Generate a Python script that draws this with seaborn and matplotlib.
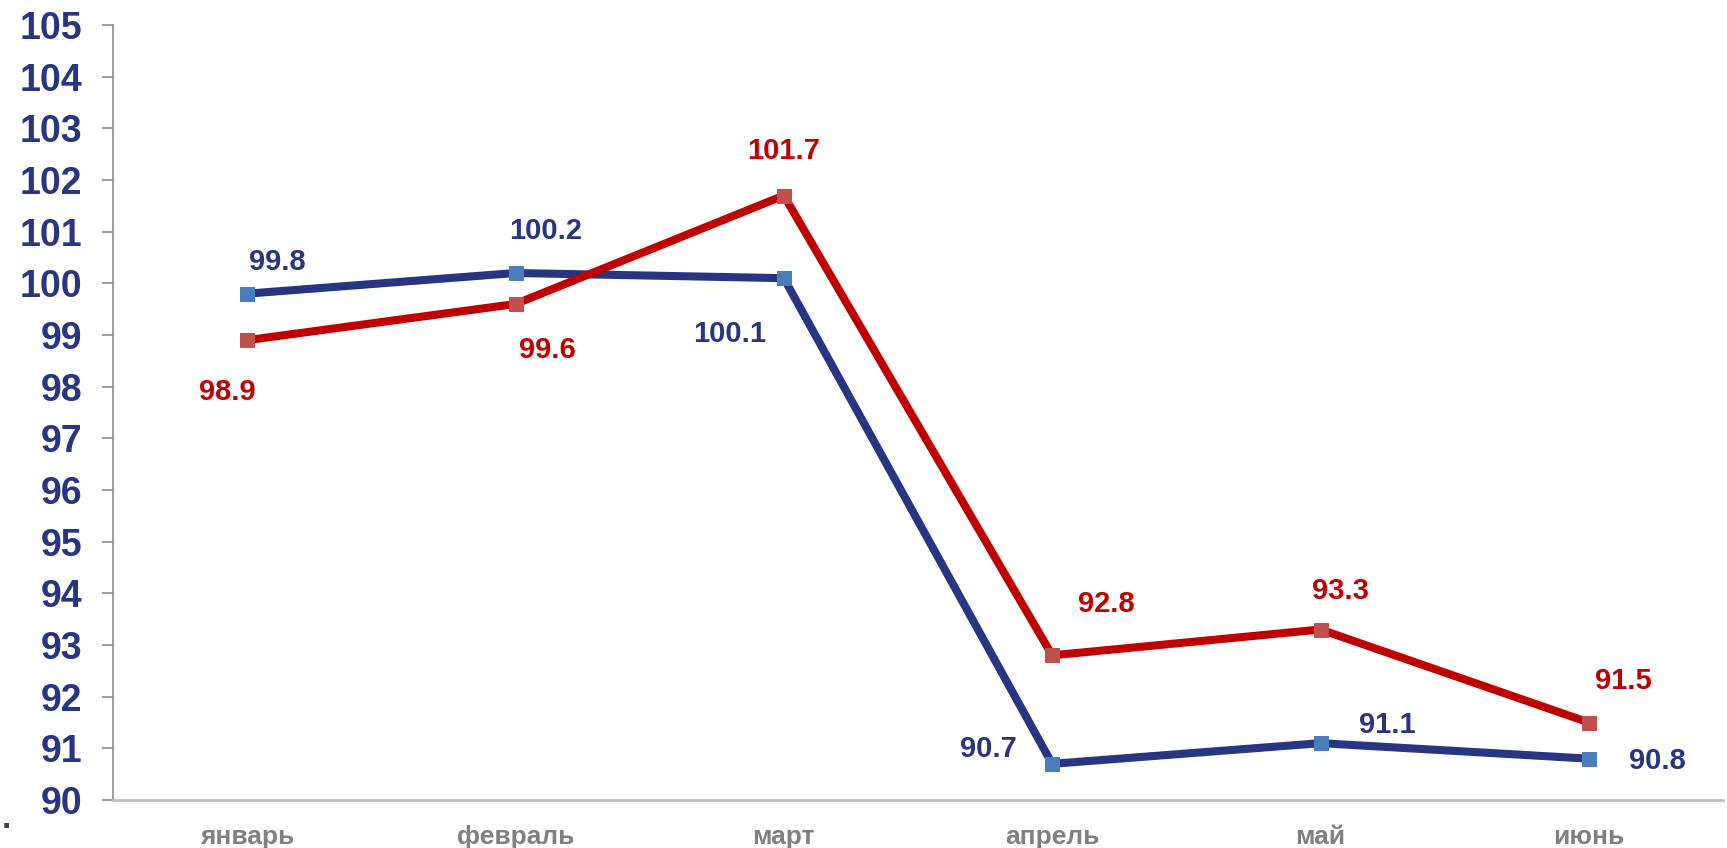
import pandas as pd
import seaborn as sns
import matplotlib.pyplot as plt

months = ['январь', 'февраль', 'март', 'апрель', 'май', 'июнь']
blue_vals = [99.8, 100.2, 100.1, 90.7, 91.1, 90.8]
red_vals = [98.9, 99.6, 101.7, 92.8, 93.3, 91.5]

# label offsets in points (dx, dy)
blue_offs = [(22, 23), (22, 30), (-39, -40), (-46, 11), (48, 13), (49, -2)]
red_offs = [(-14, -37), (23, -33), (0, 32), (39, 37), (14, 28), (25, 30)]

NAVY = '#283583'
BLUE_MK = '#4a7ebb'
RED = '#c00000'
RED_MK = '#c0504d'


def main():
    sns.set_theme(style="white")
    plt.rcParams['font.family'] = ['Liberation Sans', 'DejaVu Sans']

    df = pd.DataFrame({'month': months, 'blue': blue_vals, 'red': red_vals})

    fig = plt.figure(figsize=(17.27, 8.48), dpi=100)
    ax = fig.add_axes([113 / 1727, 48 / 848, 1610 / 1727, 775 / 848])

    sns.lineplot(data=df, x='month', y='blue', ax=ax, color=NAVY, lw=5.8,
                 marker='s', markersize=10.5, markerfacecolor=BLUE_MK,
                 markeredgecolor=BLUE_MK, sort=False)
    sns.lineplot(data=df, x='month', y='red', ax=ax, color=RED, lw=5.8,
                 marker='s', markersize=10.5, markerfacecolor=RED_MK,
                 markeredgecolor=RED_MK, sort=False)

    for i, v in enumerate(blue_vals):
        ax.annotate(f'{v:.1f}', (i, v), xytext=blue_offs[i], textcoords='offset points',
                    ha='center', va='center', fontsize=21, fontweight='bold', color=NAVY)
    for i, v in enumerate(red_vals):
        ax.annotate(f'{v:.1f}', (i, v), xytext=red_offs[i], textcoords='offset points',
                    ha='center', va='center', fontsize=21, fontweight='bold', color=RED)

    ax.set_xlim(-0.5, 5.5)
    ax.set_ylim(90, 105)
    ax.set_yticks(range(90, 106))
    ax.set_xlabel('')
    ax.set_ylabel('')

    for s in ['top', 'right']:
        ax.spines[s].set_visible(False)
    ax.spines['left'].set_color('#8c8c8c')
    ax.spines['left'].set_linewidth(1.2)
    ax.spines['bottom'].set_color('#bfbfbf')
    ax.spines['bottom'].set_linewidth(2)

    ax.tick_params(axis='y', left=True, length=8, width=1.2, color='#8c8c8c',
                   labelsize=27, labelcolor=NAVY, pad=14)
    ax.tick_params(axis='x', bottom=False, labelsize=19, labelcolor='#808080', pad=12)
    for t in ax.get_yticklabels():
        t.set_fontweight('bold')
    for t in ax.get_xticklabels():
        t.set_fontweight('bold')

    fig.text(2 / 1727, 1 - 820 / 848, '.', fontsize=24, fontweight='bold',
             color='#404040', va='center')

    plt.savefig('out.png', dpi=100)


if __name__ == "__main__":
    main()
